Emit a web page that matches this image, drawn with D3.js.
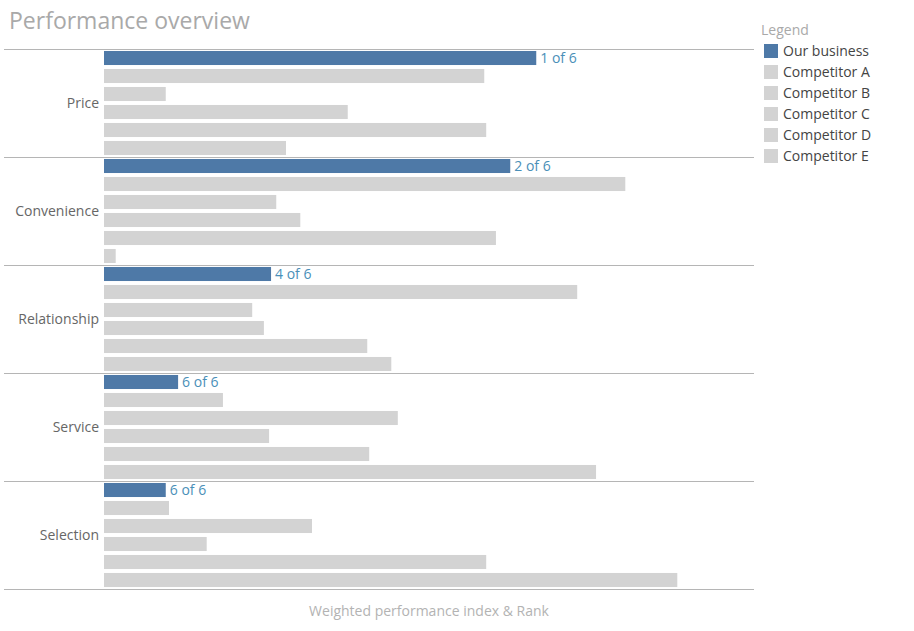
<!DOCTYPE html>
<html><head><meta charset="utf-8">
<script src="https://cdn.jsdelivr.net/npm/d3@7"></script>
<style>body{margin:0;background:#fff;font-family:"Open Sans","Noto Sans",sans-serif}</style>
</head><body><div id="chart"></div>
<script>
// categories and series
const categories = ["Price", "Convenience", "Relationship", "Service", "Selection"];
const series = ["Our business", "Competitor A", "Competitor B", "Competitor C", "Competitor D", "Competitor E"];
const ourBusiness  = [66.5, 62.5, 25.7, 11.4, 9.5];
const competitorA  = [58.5, 80.2, 72.8, 18.3, 10.0];
const competitorB  = [9.5, 26.5, 22.8, 45.2, 32.0];
const competitorC  = [37.5, 30.2, 24.6, 25.4, 15.8];
const competitorD  = [58.8, 60.3, 40.5, 40.8, 58.8];
const competitorE  = [28.0, 1.8, 44.2, 75.7, 88.2];
const rankLabels = ["1 of 6", "2 of 6", "4 of 6", "6 of 6", "6 of 6"];

const allSeries = [ourBusiness, competitorA, competitorB, competitorC, competitorD, competitorE];

let width = 914, height = 631;
let svg = d3.select("#chart").append("svg").attr("width", width).attr("height", height);

// title
svg.append("text").attr("x", 9).attr("y", 29).text("Performance overview")
  .attr("font-size", 23).attr("fill", "#a9a9a9");

let x = d3.scaleLinear().domain([0, 100]).range([104, 754]);
let y = d3.scaleBand().domain(categories).range([49, 589]);
let ySub = d3.scaleBand().domain(series).range([0, y.bandwidth()]).paddingInner(0.22).paddingOuter(0.11);
let color = d3.scaleOrdinal().domain(series).range(["#4e79a7"].concat(d3.range(5).map(() => "#d3d3d3")));

// group separators
svg.append("g").selectAll("line")
  .data(categories.map(c => y(c)).concat([y.range()[1]]))
  .enter().append("line")
    .attr("x1", 4).attr("x2", 754).attr("y1", d => d + 0.5).attr("y2", d => d + 0.5)
    .attr("stroke", "#b5b5b5");

// category labels
svg.append("g").selectAll("text").data(categories).enter().append("text")
  .attr("x", 99).attr("y", d => y(d) + y.bandwidth() / 2 + 5)
  .attr("text-anchor", "end").attr("font-size", 14).attr("fill", "#666").text(d => d);

// bars
let groups = svg.append("g").selectAll("g").data(categories).enter().append("g")
  .attr("transform", d => "translate(0," + y(d) + ")");
groups.selectAll("rect")
  .data((c, i) => series.map((s, j) => ({key: s, value: allSeries[j][i]})))
  .enter().append("rect")
    .attr("x", x(0)).attr("y", d => ySub(d.key))
    .attr("width", d => x(d.value) - x(0)).attr("height", ySub.bandwidth())
    .attr("fill", d => color(d.key));

// rank labels
groups.append("text")
  .attr("x", (c, i) => x(ourBusiness[i]) + 4)
  .attr("y", ySub(series[0]) + ySub.bandwidth() / 2 + 5)
  .attr("font-size", 14).attr("fill", "#4a8fb8").text((c, i) => rankLabels[i]);

// axis title
svg.append("text").attr("x", 429).attr("y", 616).attr("text-anchor", "middle")
  .attr("font-size", 14).attr("fill", "#b3b3b3").text("Weighted performance index & Rank");

// legend
let legend = svg.append("g").attr("transform", "translate(761,0)");
legend.append("text").attr("x", 0).attr("y", 35).attr("font-size", 14).attr("fill", "#a9a9a9").text("Legend");
let items = legend.selectAll("g").data(series).enter().append("g")
  .attr("transform", (d, i) => "translate(0," + (44 + i * 21) + ")");
items.append("rect").attr("x", 3).attr("width", 14).attr("height", 14).attr("fill", d => color(d));
items.append("text").attr("x", 22).attr("y", 12).attr("font-size", 14).attr("fill", "#444").text(d => d);
</script></body></html>
